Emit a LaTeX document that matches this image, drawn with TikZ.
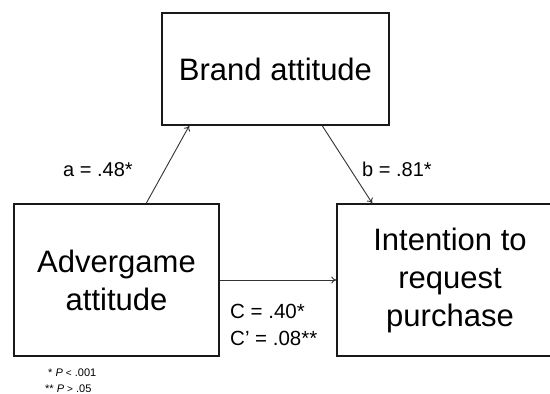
\documentclass[tikz,border=0pt]{standalone}
\usepackage{fontspec}
\setmainfont{Liberation Sans}
\usetikzlibrary{arrows.meta}
\begin{document}
\begin{tikzpicture}[x=1pt,y=-1pt,
  varbox/.style={draw=black!90,line width=1.5pt,inner sep=0pt,align=center,
    font=\fontsize{31}{38}\selectfont},
  path/.style={draw=black!80,line width=0.9pt,-{To[length=5pt,width=7pt]}},
  coef/.style={anchor=base west,inner sep=0pt,font=\fontsize{20}{24}\selectfont},
  note/.style={anchor=base west,inner sep=0pt,font=\fontsize{11}{13}\selectfont}]
  \useasboundingbox (0,0) rectangle (550,394);
  \clip (0,0) rectangle (550,394);
  \fill[white] (0,0) rectangle (550,394);

  % variables
  \node[varbox,minimum width=227pt,minimum height=112pt] (brand) at (275.5,69) {Brand attitude};
  \node[varbox,minimum width=205pt,minimum height=152pt] (adv) at (116.5,280) {Advergame\\attitude};
  \node[varbox,minimum width=226pt,minimum height=152pt] (int) at (450,280) {Intention to\\request\\purchase};

  % paths
  \draw[path] ([xshift=133pt]adv.north west) -- ([xshift=28pt]brand.south west);
  \draw[path] ([xshift=161pt]brand.south west) -- ([xshift=36pt]int.north west);
  \draw[path] (adv.east) -- (int.west);

  % coefficients
  \node[coef] (ca) at (63,176) {a = .48*};
  \node[coef] (cb) at (362,176) {b = .81*};
  \node[coef,font=\fontsize{20.5}{24}\selectfont] (cc) at (230,318) {C = .40*};
  \node[coef,font=\fontsize{20.5}{24}\selectfont] (ccp) at (230,345) {C’ = .08**};

  % significance notes
  \node[note] (n1) at (48,376) {* \textit{P} {\fontsize{10}{12}\selectfont<} .001};
  \node[note] (n2) at (45,392) {** \textit{P} {\fontsize{10}{12}\selectfont>} .05};
\end{tikzpicture}
\end{document}
